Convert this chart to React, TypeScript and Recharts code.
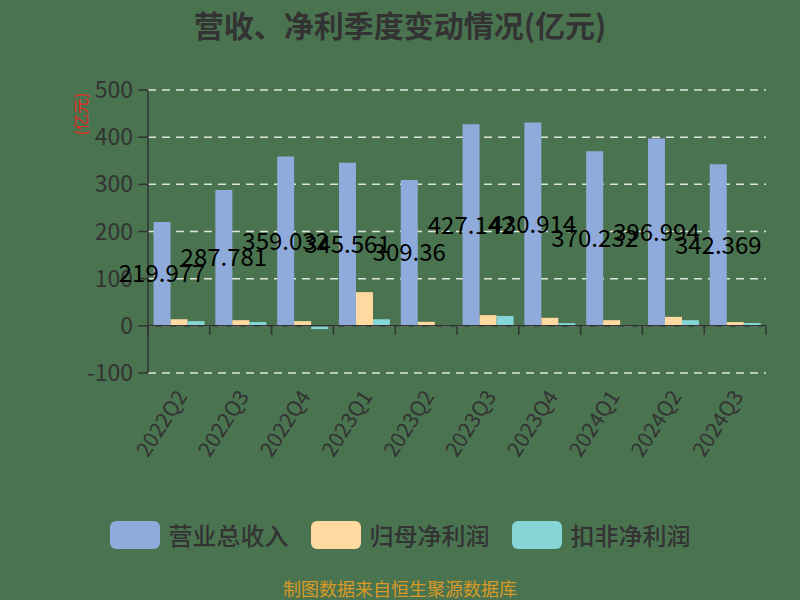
import React from 'react';
import { BarChart, Bar, XAxis, YAxis, CartesianGrid, ReferenceLine, LabelList } from 'recharts';

const quarters = ['2022Q2', '2022Q3', '2022Q4', '2023Q1', '2023Q2', '2023Q3', '2023Q4', '2024Q1', '2024Q2', '2024Q3'];
const revenue = [219.977, 287.781, 359.032, 345.561, 309.36, 427.142, 430.914, 370.232, 396.994, 342.369];
const netProfit = [14, 12, 10, 71.5, 8.5, 22.7, 17, 12, 19, 8];
const deductedProfit = [10, 8, -7, 14, 0.5, 21, 5.7, 1, 12, 6];
const yTicks = [-100, 0, 100, 200, 300, 400, 500];

const FONT = "'Noto Sans CJK SC', 'Noto Sans', sans-serif";
const BG = '#4a7350';
const COLORS = { revenue: '#8fabdc', net: '#fed9a0', deducted: '#86d6d8' };

const chartData = quarters.map((q, i) => ({
  quarter: q,
  revenue: revenue[i],
  net: netProfit[i],
  deducted: deductedProfit[i],
}));

// zero line acts as the category axis: line plus boundary ticks
const ZeroAxis = (props: any) => {
  const { x1, y1, x2 } = props;
  const step = (x2 - x1) / quarters.length;
  return (
    <g>
      <line x1={x1} y1={y1} x2={x2} y2={y1} stroke="#333" strokeWidth={1.5} />
      {quarters.map((_, i) => (
        <line key={i} x1={x1 + step * (i + 1)} y1={y1} x2={x1 + step * (i + 1)} y2={y1 + 9} stroke="#333" strokeWidth={1.5} />
      ))}
      <line x1={x1} y1={y1} x2={x1} y2={y1 + 9} stroke="#333" strokeWidth={1.5} />
    </g>
  );
};

const XTick = (props: any) => {
  const { x, y, payload } = props;
  const ax = x - 7;
  return (
    <text x={ax} y={y} transform={`rotate(-57, ${ax}, ${y})`} textAnchor="end" dominantBaseline="hanging"
      fontSize={21} fill="#333" fontFamily={FONT}>
      {payload.value}
    </text>
  );
};

const legendItems = [
  { name: '营业总收入', color: COLORS.revenue },
  { name: '归母净利润', color: COLORS.net },
  { name: '扣非净利润', color: COLORS.deducted },
];

export default function App() {
  return (
    <div style={{ position: 'absolute', left: 0, top: 0, width: 800, height: 600, background: BG, fontFamily: FONT, overflow: 'hidden' }}>
      <div style={{ position: 'absolute', top: 2, width: 800, textAlign: 'center', fontSize: 30, fontWeight: 'bold', color: '#333' }}>
        营收、净利季度变动情况(亿元)
      </div>
      <div style={{ position: 'absolute', left: 54, top: 102, width: 52, textAlign: 'center', fontSize: 16, color: '#e8261f', transform: 'rotate(-90deg)' }}>
        (亿元)
      </div>
      <div style={{ position: 'absolute', left: 0, top: 0 }}>
        <BarChart width={800} height={480} data={chartData} margin={{ top: 90, right: 34, left: 0, bottom: 0 }}
          barCategoryGap="9%" barGap={0}>
          <CartesianGrid vertical={false} stroke="#dfe6dd" strokeDasharray="8 6" strokeWidth={1.5} />
          <XAxis dataKey="quarter" axisLine={false} tickLine={false} height={107} tickMargin={7} tick={<XTick />} interval={0} />
          <YAxis domain={[-100, 500]} ticks={yTicks} width={148} tickSize={10} tickMargin={5}
            axisLine={{ stroke: '#333', strokeWidth: 1.5 }} tickLine={{ stroke: '#333', strokeWidth: 1.5 }}
            tick={{ fontSize: 23, fill: '#333', fontFamily: FONT }} />
          <Bar dataKey="revenue" fill={COLORS.revenue} isAnimationActive={false}>
            <LabelList dataKey="revenue" position="center" fill="#000" fontSize={24} fontFamily={FONT} />
          </Bar>
          <Bar dataKey="net" fill={COLORS.net} isAnimationActive={false} />
          <Bar dataKey="deducted" fill={COLORS.deducted} isAnimationActive={false} />
          <ReferenceLine y={0} shape={<ZeroAxis />} />
        </BarChart>
      </div>
      <div style={{ position: 'absolute', top: 521, width: 800, display: 'flex', justifyContent: 'center', alignItems: 'center' }}>
        {legendItems.map((it) => (
          <div key={it.name} style={{ display: 'flex', alignItems: 'center', margin: '0 11px' }}>
            <div style={{ width: 50, height: 28, borderRadius: 6, background: it.color, marginRight: 9 }} />
            <span style={{ fontSize: 24, color: '#333', lineHeight: '28px', fontWeight: 500 }}>{it.name}</span>
          </div>
        ))}
      </div>
      <div style={{ position: 'absolute', top: 577, width: 800, textAlign: 'center', fontSize: 18, lineHeight: '22px', color: '#d99a26' }}>
        制图数据来自恒生聚源数据库
      </div>
    </div>
  );
}
